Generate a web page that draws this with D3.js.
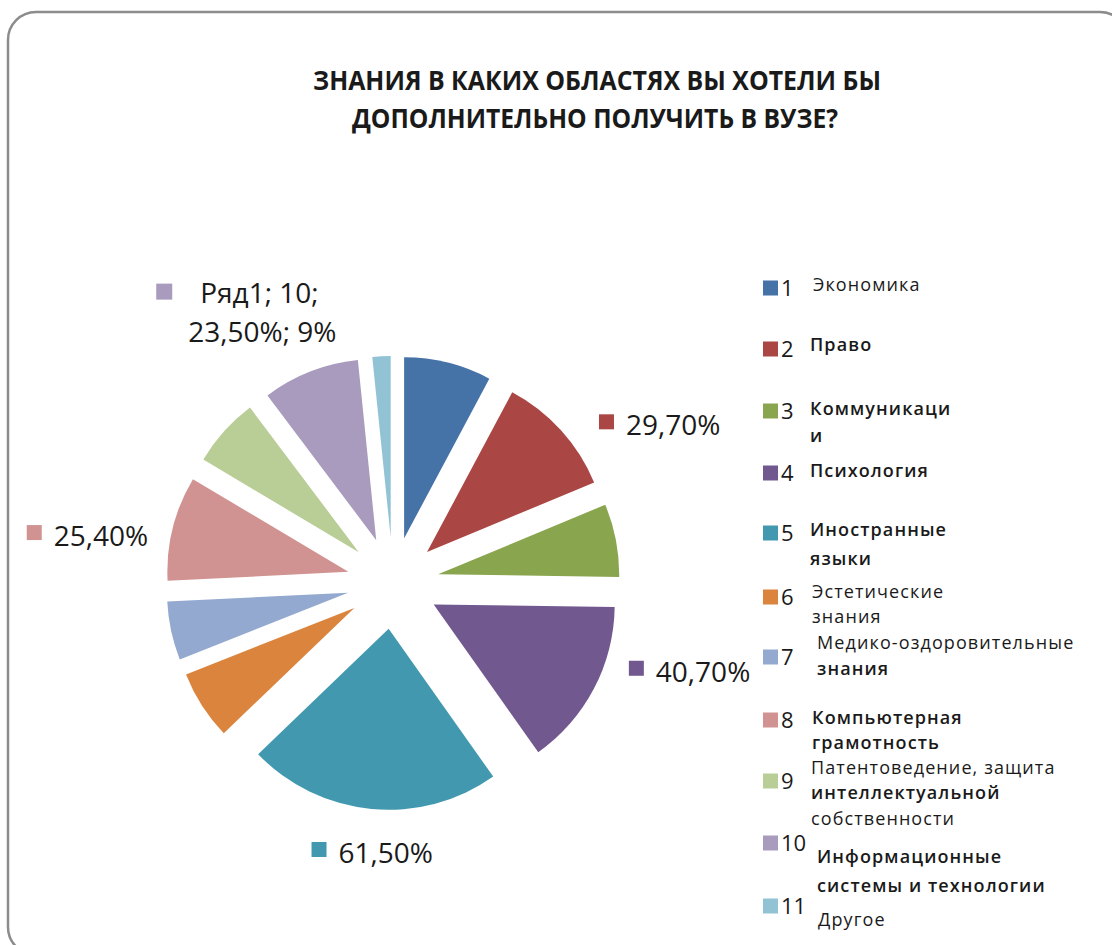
<!DOCTYPE html>
<html><head><meta charset="utf-8">
<script src="https://cdn.jsdelivr.net/npm/d3@7/dist/d3.min.js"></script>
<style>
body{margin:0;background:#fff}
svg{display:block}
text{font-family:"Open Sans","Noto Sans",sans-serif;fill:#1a1a1a}
</style>
</head><body>
<svg id="c" width="1112" height="945"></svg>
<script>
// ---------- data ----------
const titleLines = ["ЗНАНИЯ В КАКИХ ОБЛАСТЯХ ВЫ ХОТЕЛИ БЫ", "ДОПОЛНИТЕЛЬНО ПОЛУЧИТЬ В ВУЗЕ?"];
const seriesName = "Ряд1";
const categories = ["1","2","3","4","5","6","7","8","9","10","11"];
const categoryNames = [
  "Экономика",
  "Право",
  "Коммуникаци\nи",
  "Психология",
  "Иностранные\nязыки",
  "Эстетические\nзнания",
  "Медико-оздоровительные\nзнания",
  "Компьютерная\nграмотность",
  "Патентоведение, защита\nинтеллектуальной\nсобственности",
  "Информационные\nсистемы и технологии",
  "Другое"
];
const values = [21.2, 29.7, 17.7, 40.7, 61.5, 16.8, 14.2, 25.4, 16.8, 23.5, 4.4];
const colors = ["#4572A7","#AA4643","#89A54E","#71588F","#4198AF","#DB843D","#93A9CF","#D19392","#B9CD96","#A99BBD","#92C3D4"];
const labelledValue = [1, 3, 4, 7];   // value-only data labels
const labelledFull = [9];            // "series; category; value; percent"

// ---------- layout ----------
const cx = 393, cy = 583, R = 181, explode = 46;
const labelNudge = {1:[38,-16], 3:[35,-28], 4:[-60,33], 7:[-146,-3], 9:[-154,-88]};
const legendLayout = [
  {sq:288, x:813, lines:[285], bold:[0]},
  {sq:349, x:810, lines:[345], bold:[1]},
  {sq:411, x:810, lines:[409,436], bold:[1,1]},
  {sq:473, x:810, lines:[471], bold:[1]},
  {sq:533, x:810, lines:[530,559], bold:[1,1]},
  {sq:597, x:812, lines:[592,617], bold:[0,0]},
  {sq:657, x:817, lines:[643,669], bold:[0,1]},
  {sq:720, x:812, lines:[718,743], bold:[1,1]},
  {sq:781, x:811, lines:[768,793,819], bold:[0,1,0]},
  {sq:843, x:817, lines:[857,886], bold:[1,1]},
  {sq:906, x:818, lines:[920], bold:[0]}
];

const svg = d3.select("#c");

// border
svg.append("rect").attr("x",8).attr("y",12).attr("width",1120).attr("height",943)
  .attr("rx",28).attr("ry",28).attr("fill","#fff").attr("stroke","#8c8c8c").attr("stroke-width",2.5);

// title
const tl = [{y:90, w:568, x:597}, {y:128, w:486, x:595}];
titleLines.forEach((t,i)=>{
  svg.append("text").attr("x",tl[i].x).attr("y",tl[i].y).attr("text-anchor","middle")
    .attr("font-size",27).attr("font-weight",700)
    .attr("textLength",tl[i].w).attr("lengthAdjust","spacingAndGlyphs").text(t);
});

// pie
const pie = d3.pie().sort(null).value(d=>d).startAngle(0).endAngle(2*Math.PI);
const arcs = pie(values);
const arc = d3.arc().innerRadius(0).outerRadius(R);
const total = d3.sum(values);
const g = svg.append("g").attr("transform",`translate(${cx},${cy})`);
const mid = d => (d.startAngle + d.endAngle)/2;
g.selectAll("path").data(arcs).join("path")
  .attr("d", arc)
  .attr("fill",(d,i)=>colors[i])
  .attr("transform", d=>`translate(${Math.sin(mid(d))*explode},${-Math.cos(mid(d))*explode})`);

// data labels
const fmtPct = v => d3.format(".2f")(v).replace(".", ",") + "%";
const labelArc = d3.arc().innerRadius(R+explode).outerRadius(R+explode);
function anchor(i){
  const c = labelArc.centroid(arcs[i]);
  return [cx + c[0] + labelNudge[i][0], cy + c[1] + labelNudge[i][1]];
}
labelledValue.forEach(i=>{
  const [x,y] = anchor(i);
  svg.append("rect").attr("x",x).attr("y",y).attr("width",15).attr("height",15).attr("fill",colors[i]);
  svg.append("text").attr("x",x+27).attr("y",y+21).attr("font-size",28).text(fmtPct(values[i]));
});
labelledFull.forEach(i=>{
  const [x,y] = anchor(i);
  svg.append("rect").attr("x",x).attr("y",y).attr("width",16).attr("height",16).attr("fill",colors[i]);
  svg.append("text").attr("x",x+44).attr("y",y+19).attr("font-size",28)
    .text(`${seriesName}; ${categories[i]};`);
  svg.append("text").attr("x",x+32).attr("y",y+58).attr("font-size",28)
    .text(`${fmtPct(values[i])}; ${Math.round(values[i]/total*100)}%`);
});

// legend
const lg = svg.append("g");
categories.forEach((c,i)=>{
  const L = legendLayout[i];
  lg.append("rect").attr("x",763).attr("y",L.sq-7.5).attr("width",15).attr("height",15).attr("fill",colors[i]);
  lg.append("text").attr("x",781).attr("y",L.sq+8).attr("font-size",22).attr("fill","#222").text(c);
  categoryNames[i].split("\n").forEach((ln,j)=>{
    lg.append("text").attr("x",L.x).attr("y",L.lines[j]+6)
      .attr("font-size",18).attr("letter-spacing",1.1)
      .attr("font-weight",L.bold[j]?600:400).text(ln);
  });
});
</script>
</body></html>
